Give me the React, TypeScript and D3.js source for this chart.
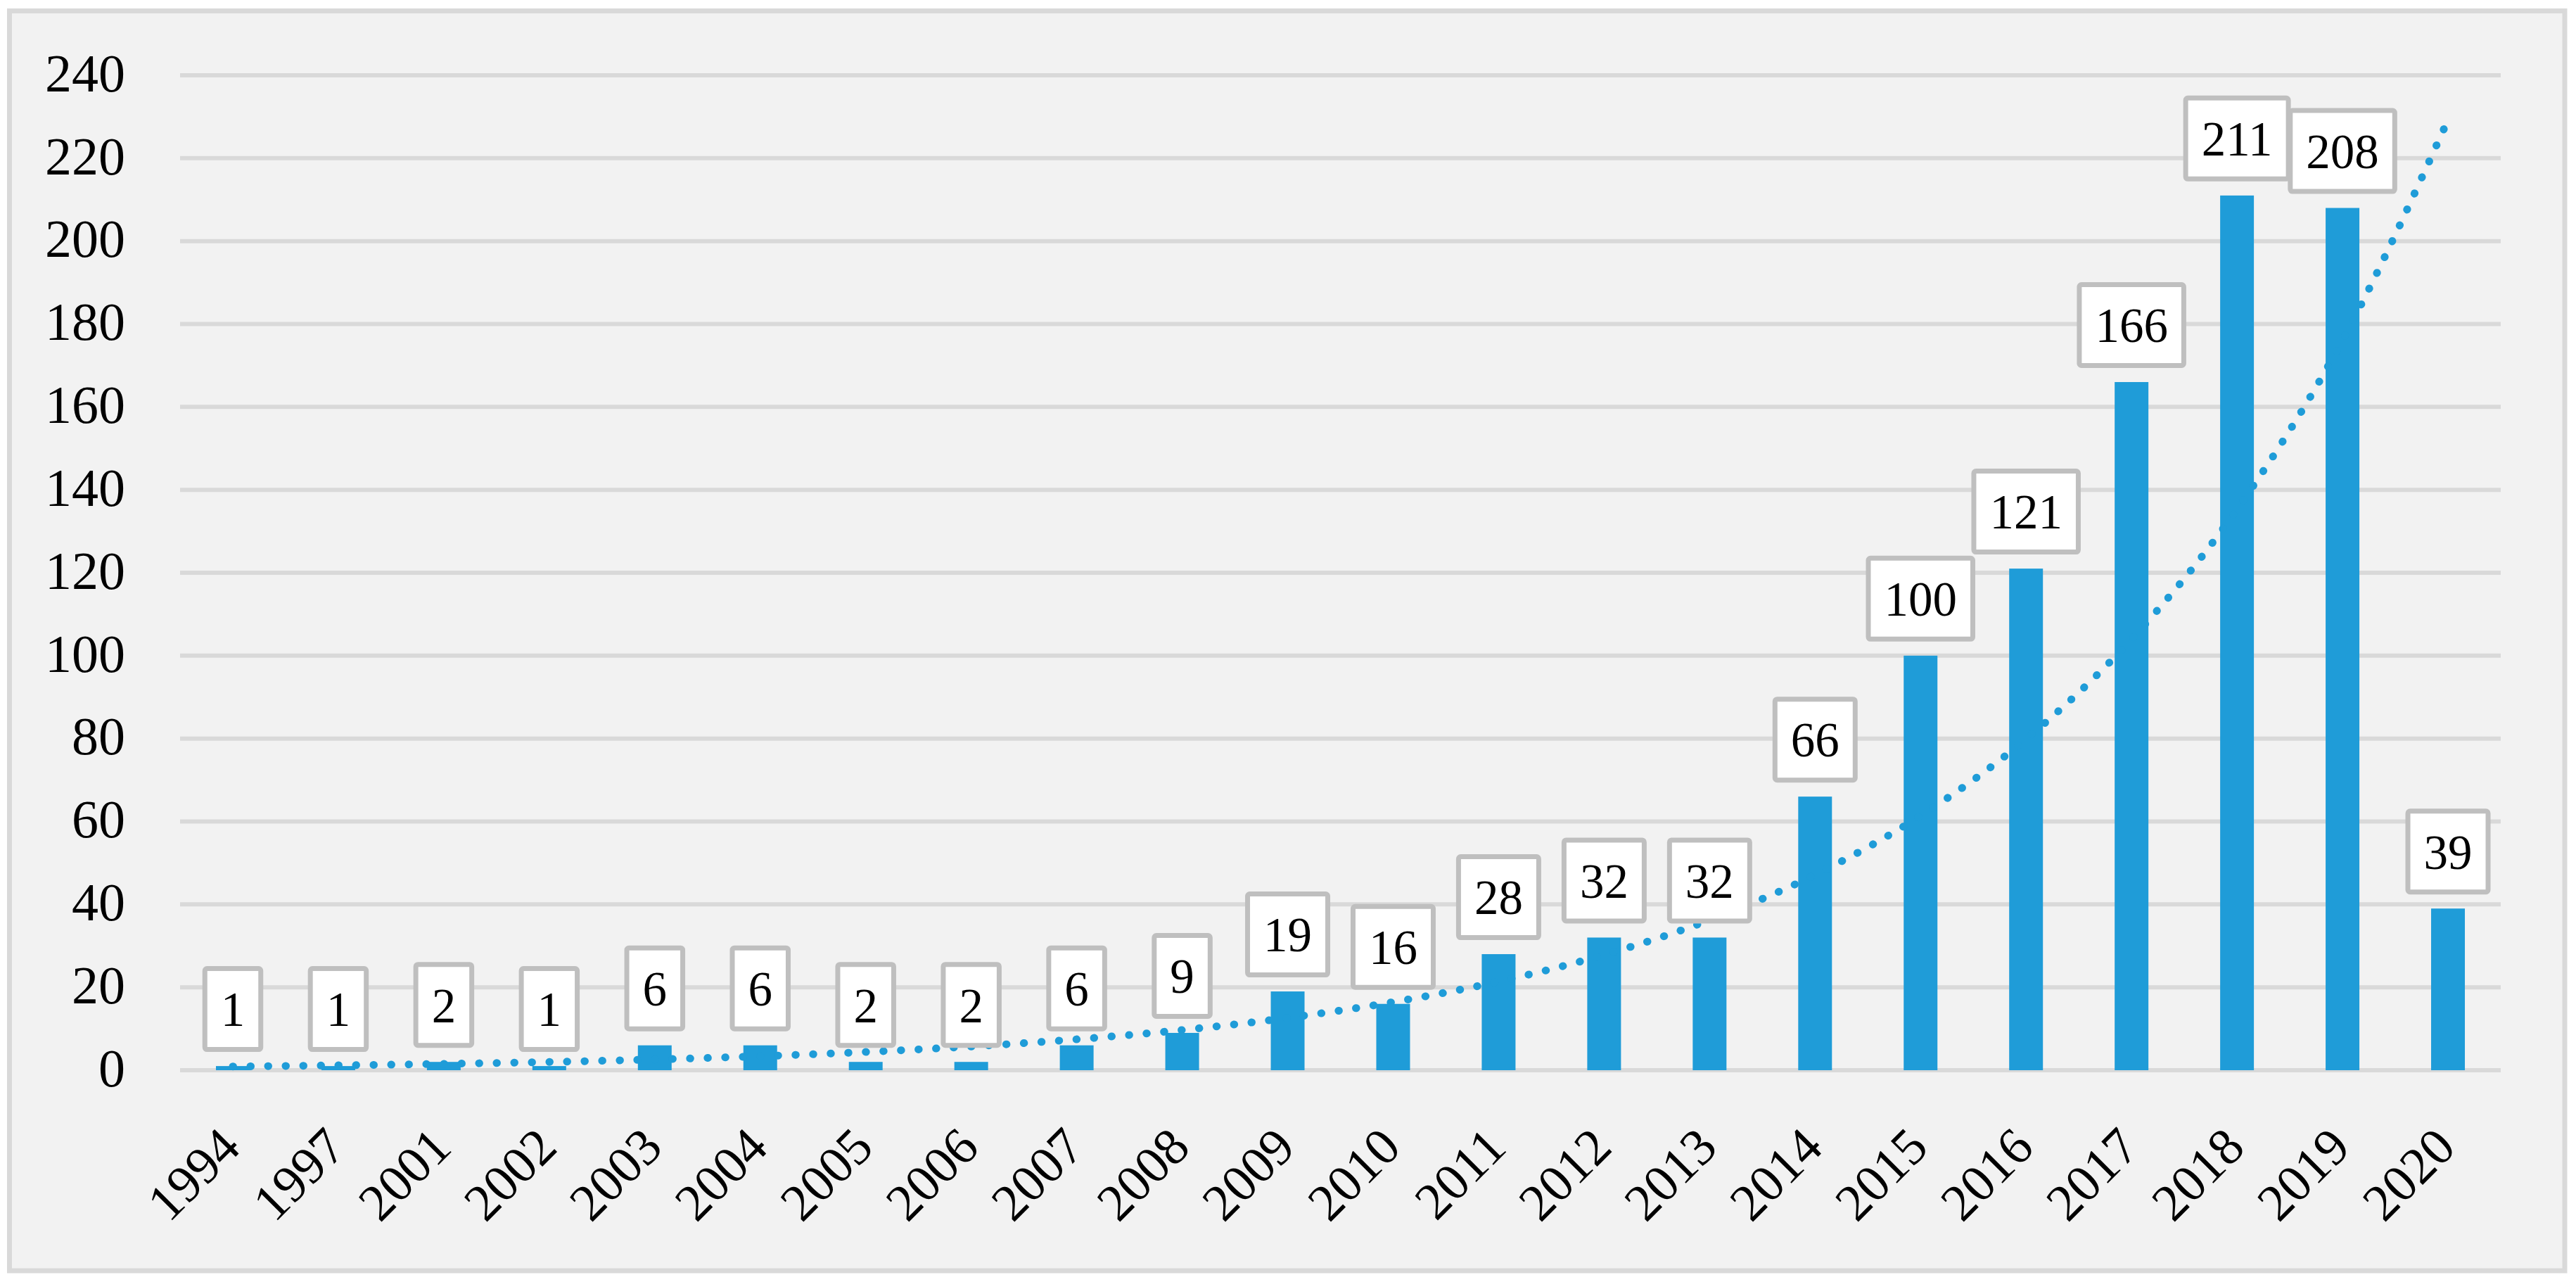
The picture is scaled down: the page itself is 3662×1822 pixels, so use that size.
import React, { useEffect, useRef } from 'react';
import * as d3 from 'd3';

// publications per year
const years = ['1994', '1997', '2001', '2002', '2003', '2004', '2005', '2006', '2007', '2008', '2009',
  '2010', '2011', '2012', '2013', '2014', '2015', '2016', '2017', '2018', '2019', '2020'];
const counts = [1, 1, 2, 1, 6, 6, 2, 2, 6, 9, 19, 16, 28, 32, 32, 66, 100, 121, 166, 211, 208, 39];
const yDomain = [0, 240];

const FONT = "'Palatino Linotype', 'Book Antiqua', Palatino, 'Liberation Serif', serif";

const App: React.FC = () => {
  const svgRef = useRef<SVGSVGElement>(null);
  const width = 3662;
  const height = 1822;

  useEffect(() => {
    const svg = d3.select(svgRef.current);
    svg.selectAll('*').remove();

    const plot = { left: 256, right: 3555, top: 107, bottom: 1521 };

    const xScale = d3.scaleBand()
      .domain(years)
      .range([plot.left, plot.right])
      .paddingInner(0.68)
      .paddingOuter(0.34);

    const yScale = d3.scaleLinear()
      .domain(yDomain)
      .range([plot.bottom, plot.top]);

    const cx = (d: string) => (xScale(d) || 0) + xScale.bandwidth() / 2;

    // chart frame
    svg.append('rect')
      .attr('x', 13.5)
      .attr('y', 15.5)
      .attr('width', 3646 - 13.5)
      .attr('height', 1806 - 15.5)
      .style('fill', '#f2f2f2')
      .style('stroke', '#d9d9d9')
      .style('stroke-width', 7);

    // gridlines
    const ticks = yScale.ticks(12);
    svg.append('g')
      .selectAll('line')
      .data(ticks)
      .enter()
      .append('line')
      .attr('x1', plot.left)
      .attr('x2', plot.right)
      .attr('y1', d => yScale(d))
      .attr('y2', d => yScale(d))
      .style('stroke', '#d9d9d9')
      .style('stroke-width', 6);

    // y labels
    svg.append('g')
      .selectAll('text')
      .data(ticks)
      .enter()
      .append('text')
      .attr('x', 178)
      .attr('y', d => yScale(d) + 0.338 * 76 - 3)
      .attr('text-anchor', 'end')
      .style('font-family', FONT)
      .style('font-size', '76px')
      .style('fill', '#000')
      .text(d => d);

    // x labels, rotated
    svg.append('g')
      .selectAll('text')
      .data(years)
      .enter()
      .append('text')
      .attr('transform', d => `translate(${cx(d) + 14}, 1634) rotate(-45)`)
      .attr('text-anchor', 'end')
      .style('font-family', FONT)
      .style('font-size', '74px')
      .style('fill', '#000')
      .text(d => d);

    // bars
    svg.append('g')
      .selectAll('rect')
      .data(counts)
      .enter()
      .append('rect')
      .attr('x', (d, i) => xScale(years[i]) || 0)
      .attr('y', d => yScale(d))
      .attr('width', xScale.bandwidth())
      .attr('height', d => yScale(0) - yScale(d))
      .style('fill', '#1f9cd8');

    // exponential trendline (least squares on ln y, x = 1..n)
    const n = counts.length;
    const xs = d3.range(1, n + 1);
    const lny = counts.map(v => Math.log(v));
    const xm = d3.mean(xs) as number;
    const ym = d3.mean(lny) as number;
    const b = d3.sum(xs, (x, i) => (x - xm) * (lny[i] - ym)) / d3.sum(xs, x => (x - xm) ** 2);
    const a = ym - b * xm;
    const trend = xs.map(x => Math.exp(a + b * x));

    const line = d3.line<number>()
      .x((d, i) => cx(years[i]))
      .y(d => yScale(d))
      .curve(d3.curveMonotoneX);

    svg.append('path')
      .datum(trend)
      .attr('d', line)
      .style('fill', 'none')
      .style('stroke', '#1f9cd8')
      .style('stroke-width', 11)
      .style('stroke-linecap', 'round')
      .style('stroke-dasharray', '0.5 24.5');

    // data labels in boxes
    const labels = svg.append('g');
    counts.forEach((v, i) => {
      const g = labels.append('g');
      const barTop = yScale(v);
      const boxH = 115;
      const boxBottom = barTop - 23.5;
      const rect = g.append('rect')
        .attr('y', boxBottom - boxH)
        .attr('height', boxH)
        .attr('rx', 3)
        .style('fill', '#ffffff')
        .style('stroke', '#bfbfbf')
        .style('stroke-width', 7);
      const txt = g.append('text')
        .attr('x', cx(years[i]))
        .attr('y', boxBottom - boxH / 2 + 0.338 * 69 + 1)
        .attr('text-anchor', 'middle')
        .style('font-family', FONT)
        .style('font-size', '69px')
        .style('fill', '#000')
        .text(v);
      const tw = (txt.node() as SVGTextElement).getComputedTextLength();
      const w = tw + 45;
      rect.attr('x', cx(years[i]) - w / 2).attr('width', w);
    });
  }, []);

  return (
    <div style={{ position: 'absolute', left: 0, top: 0 }}>
      <svg
        ref={svgRef}
        width={width}
        height={height}
        style={{ display: 'block', background: '#ffffff' }}
      />
    </div>
  );
};

export default App;
